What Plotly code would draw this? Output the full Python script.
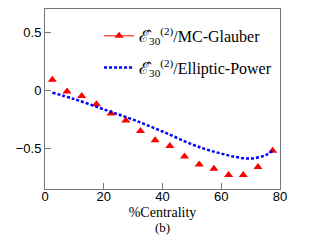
import plotly.graph_objects as go

# Data
centrality = [2.5, 7.5, 12.5, 17.5, 22.5, 27.5, 32.5, 37.5, 42.5, 47.5, 52.5, 57.5, 62.5, 67.5, 72.5, 77.5]
glauber = [0.09, -0.01, -0.05, -0.12, -0.20, -0.26, -0.35, -0.43, -0.48, -0.57, -0.64, -0.675, -0.73, -0.73, -0.66, -0.52]

ep_x = [2.5, 10, 20, 30, 40, 50, 55, 60, 65, 70, 75, 77.5]
ep_y = [-0.02, -0.076, -0.164, -0.253, -0.355, -0.465, -0.51, -0.545, -0.575, -0.588, -0.56, -0.52]

x_ticks = [0, 20, 40, 60, 80]
y_ticks = [-0.5, 0, 0.5]

label_glauber = "ℰ̂<sub>30</sub><sup>(2)</sup>/MC-Glauber"
label_ep = "ℰ̂<sub>30</sub><sup>(2)</sup>/Elliptic-Power"

fig = go.Figure()
# legend-only entry (line + marker sample)
fig.add_trace(go.Scatter(x=[None], y=[None], mode="lines+markers", name=label_glauber, legendgroup="a",
                         line=dict(color="red", width=1),
                         marker=dict(symbol="triangle-up", size=8, color="red")))
fig.add_trace(go.Scatter(x=centrality, y=glauber, mode="markers", showlegend=False, legendgroup="a",
                         marker=dict(symbol="triangle-up", size=8, color="red")))
fig.add_trace(go.Scatter(x=ep_x, y=ep_y, mode="lines", name=label_ep, line_shape="spline", legendgroup="b",
                         line=dict(color="blue", width=2.5, dash="3px,2px")))

axis_common = dict(showgrid=False, zeroline=False, showline=True, linecolor="#777777", linewidth=1,
                   mirror=True, ticks="inside", ticklen=6, tickcolor="#777777",
                   tickfont=dict(family="Liberation Sans, Arial", size=13, color="black"))

fig.update_layout(
    width=307, height=228,
    margin=dict(l=37, r=35, t=1, b=47),
    paper_bgcolor="white", plot_bgcolor="white",
    showlegend=True,
    legend=dict(x=0.23, y=0.945, xanchor="left", yanchor="top", bgcolor="rgba(0,0,0,0)",
                font=dict(family="Liberation Serif, Times New Roman", size=16, color="black"),
                itemwidth=30, tracegroupgap=8),
    xaxis=dict(range=[0, 80], tickvals=x_ticks, ticklabelstandoff=-5, **axis_common,
               title=dict(text="%Centrality", standoff=4,
                          font=dict(family="Liberation Serif, Times New Roman", size=14, color="black"))),
    yaxis=dict(range=[-0.85, 0.7], tickvals=y_ticks, ticktext=["−0.5", "0", "0.5"], **axis_common),
    annotations=[dict(text="(b)", xref="paper", yref="paper", x=0.5, y=-0.212, showarrow=False,
                      yanchor="middle", font=dict(family="Liberation Serif, Times New Roman", size=13, color="black"))],
)

fig.write_html("out.html")
